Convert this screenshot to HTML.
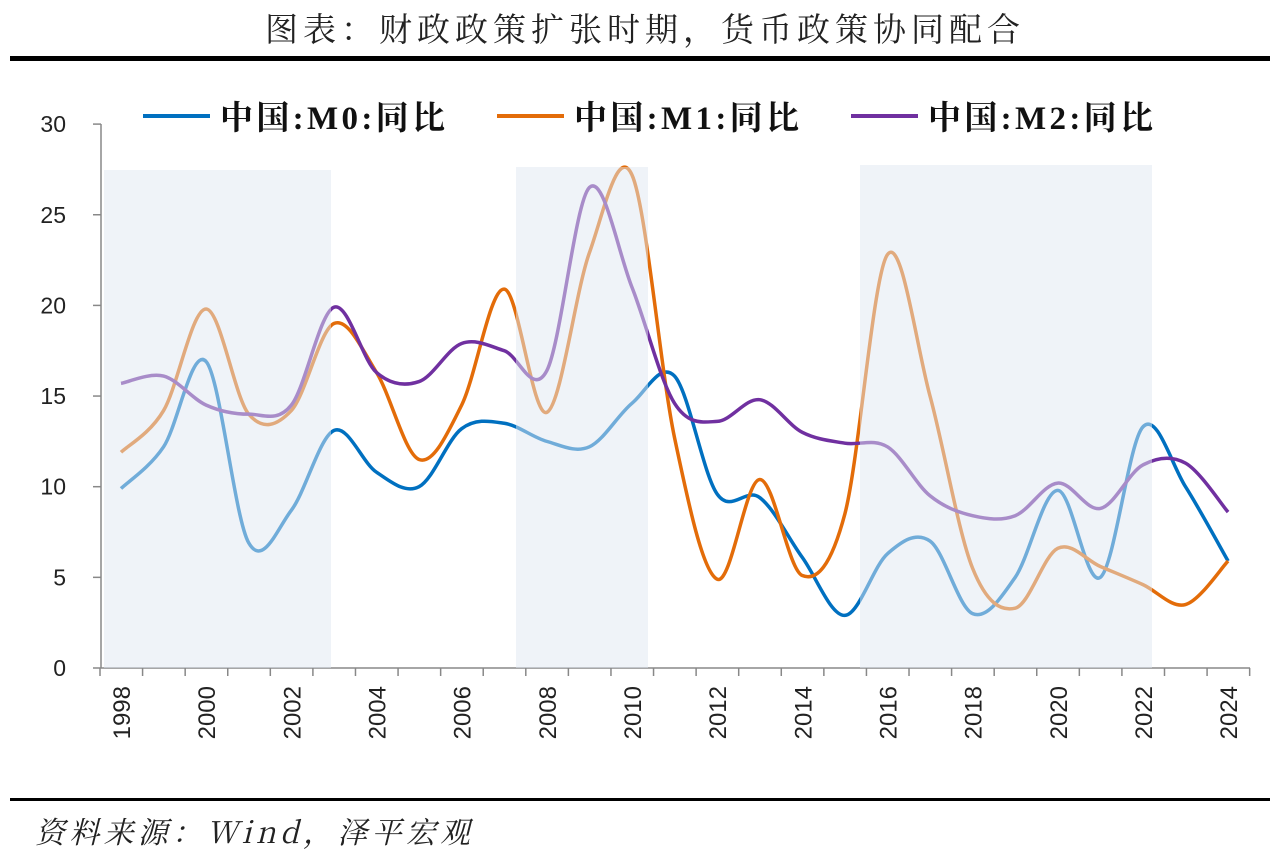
<!DOCTYPE html>
<html><head><meta charset="utf-8"><style>
body{margin:0;background:#fff;width:1280px;height:855px;overflow:hidden;font-family:"Liberation Sans","Noto Sans CJK SC",sans-serif}
</style></head><body>
<svg id="s" width="1280" height="855" xmlns="http://www.w3.org/2000/svg">
<text x="265" y="41" font-family="'Noto Serif CJK SC',serif" font-size="33" fill="#222" textLength="755" lengthAdjust="spacing">图表：财政政策扩张时期，货币政策协同配合</text>
<rect x="10" y="56" width="1260" height="5" fill="#000"/>
<rect x="10" y="798" width="1260" height="3" fill="#000"/>
<text x="35" y="843" font-family="'Noto Serif CJK SC',serif" font-style="italic" font-size="30" fill="#222" textLength="435" lengthAdjust="spacing">资料来源：Wind，泽平宏观</text>
<g id="g"></g>
</svg>
<script>
const g=document.getElementById('g');
const X=i=>121+i*42.58, Y=v=>668-v*18.13;
let h='';
h+='<line x1="101" y1="124" x2="101" y2="668" stroke="#888" stroke-width="1.5"/>';
h+='<line x1="101" y1="668" x2="1250" y2="668" stroke="#888" stroke-width="1.5"/>';
for(let v=0;v<=30;v+=5){h+=`<line x1="93" y1="${Y(v)}" x2="101" y2="${Y(v)}" stroke="#888" stroke-width="1.5"/><text x="66" y="${Y(v)+8}" text-anchor="end" font-size="23" fill="#222">${v}</text>`;}
for(let i=0;i<=27;i++){const x=100+i*42.58;h+=`<line x1="${x}" y1="668" x2="${x}" y2="676" stroke="#888" stroke-width="1.5"/>`;}
for(let y=1998;y<=2024;y+=2){const x=X(y-1998)+9;h+=`<text transform="translate(${x},686) rotate(-90)" text-anchor="end" font-size="24" fill="#222">${y}</text>`;}
const M0=[9.9,12.2,16.9,6.9,8.7,13.1,10.8,10,13.2,13.5,12.5,12.2,14.6,16.1,9.6,9.4,6.1,2.9,6.3,7.0,3.0,5.0,9.8,5.0,13.3,10.0,5.9];
const M1=[11.9,14.2,19.8,14.0,14.2,19.0,16.3,11.5,14.5,20.9,14.1,22.9,27.2,12.7,4.9,10.4,5.1,8.5,22.8,15.0,5.5,3.3,6.6,5.6,4.6,3.5,5.9];
const M2=[15.7,16.1,14.5,14.0,14.5,19.9,16.3,15.8,17.9,17.5,16.4,26.5,21.0,14.6,13.6,14.8,13.0,12.4,12.2,9.5,8.4,8.4,10.2,8.8,11.2,11.3,8.6];
function path(d){const p=d.map((v,i)=>[X(i),Y(v)]);let s=`M${p[0][0]},${p[0][1]}`;
for(let i=0;i<p.length-1;i++){const p0=p[Math.max(i-1,0)],p1=p[i],p2=p[i+1],p3=p[Math.min(i+2,p.length-1)];
s+=` C${p1[0]+(p2[0]-p0[0])/6},${p1[1]+(p2[1]-p0[1])/6} ${p2[0]-(p3[0]-p1[0])/6},${p2[1]-(p3[1]-p1[1])/6} ${p2[0]},${p2[1]}`;}return s;}
[[M0,'#0070c0'],[M1,'#e36c09'],[M2,'#7030a0']].forEach(([d,c])=>{h+=`<path d="${path(d)}" fill="none" stroke="${c}" stroke-width="3.5"/>`;});
[[104,170,227],[516,167,132],[860,165,292]].forEach(([x,y,w])=>{h+=`<rect x="${x}" y="${y}" width="${w}" height="${668-y}" fill="#dfe7f2" fill-opacity="0.5"/>`;});
[[143,'#0070c0','中国:M0:同比'],[497,'#e36c09','中国:M1:同比'],[851,'#7030a0','中国:M2:同比']].forEach(([x,c,t])=>{h+=`<line x1="${x}" y1="116" x2="${x+67}" y2="116" stroke="${c}" stroke-width="4"/><text x="${x+77}" y="129" font-size="33" font-weight="bold" fill="#111" font-family="'Liberation Serif','Noto Serif CJK SC',serif" textLength="225" lengthAdjust="spacing">${t}</text>`;});
g.innerHTML=h;
</script>
</body></html>
